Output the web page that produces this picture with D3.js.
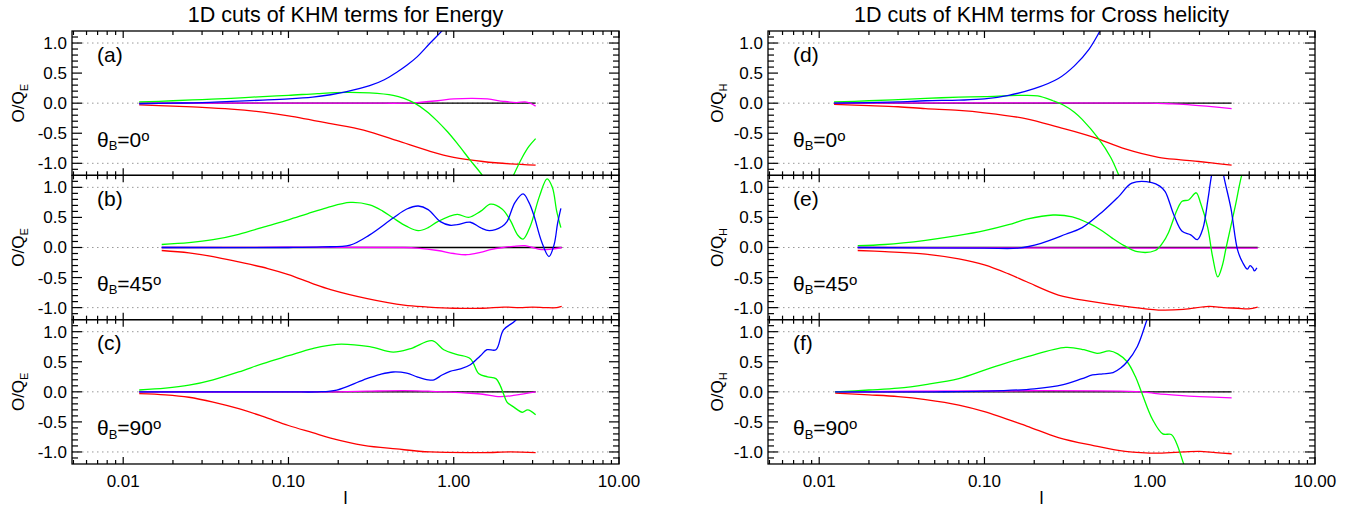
<!DOCTYPE html>
<html>
<head>
<meta charset="utf-8">
<script src="https://cdn.jsdelivr.net/npm/d3@7"></script>
<style>
  body { margin: 0; background: #fff; }
  text { font-family: "Liberation Sans", Arial, Helvetica, sans-serif; fill: #000; }
</style>
</head>
<body>
<svg id="chart" width="1363" height="508"></svg>
<script>
// Column titles, tick labels, panel names
const columnTitles = ['1D cuts of KHM terms for Energy', '1D cuts of KHM terms for Cross helicity'];
const yLabelSubs = ['E', 'H'];
const panelLetters = [['a', 'b', 'c'], ['d', 'e', 'f']];
const thetaAngles = ['0', '45', '90'];
const xTickValues = [0.01, 0.1, 1, 10];
const xTickLabels = ['0.01', '0.10', '1.00', '10.00'];
const yTickValues = [1, 0.5, 0, -0.5, -1];
const yTickLabels = ['1.0', '0.5', '0.0', '-0.5', '-1.0'];
const gridValues = [1, 0, -1];

// Panel (a): Energy, theta_B = 0
const aBlue = [[0.0125, -0.01], [0.02, 0.0], [0.03, 0.01], [0.045, 0.03], [0.07, 0.05], [0.1, 0.07], [0.14, 0.1], [0.18, 0.14], [0.225, 0.19], [0.31, 0.29], [0.38, 0.39], [0.45, 0.51], [0.52, 0.63], [0.6, 0.77], [0.72, 1.0], [0.86, 1.22], [1.0, 1.45], [1.2, 1.8]];
const aGreen = [[0.0125, 0.02], [0.02, 0.04], [0.03, 0.06], [0.045, 0.08], [0.07, 0.11], [0.1, 0.13], [0.15, 0.16], [0.225, 0.18], [0.31, 0.17], [0.43, 0.13], [0.5, 0.08], [0.58, 0.0], [0.68, -0.13], [0.79, -0.29], [0.92, -0.48], [1.05, -0.67], [1.26, -0.95], [1.49, -1.2], [1.7, -1.45], [1.9, -1.55], [2.1, -1.45], [2.3, -1.2], [2.6, -0.9], [2.85, -0.72], [3.13, -0.59]];
const aRed = [[0.0125, -0.03], [0.02, -0.05], [0.03, -0.07], [0.045, -0.1], [0.07, -0.15], [0.1, -0.21], [0.18, -0.34], [0.285, -0.45], [0.45, -0.62], [0.72, -0.8], [1.0, -0.9], [1.5, -0.97], [2.2, -1.01], [3.13, -1.03]];
const aMagenta = [[0.0125, 0], [0.3, 0], [0.5, 0.0], [0.6, 0.01], [0.8, 0.04], [1.0, 0.07], [1.3, 0.08], [1.6, 0.07], [2.0, 0.03], [2.4, 0.01], [2.7, 0.02], [2.9, 0.0], [3.13, -0.05]];
const aBlack = [[0.0125, 0], [3.13, 0]];

// Panel (b): Energy, theta_B = 45
const bBlue = [[0.0171, 0], [0.1, 0], [0.16, 0.01], [0.236, 0.04], [0.31, 0.21], [0.43, 0.49], [0.52, 0.64], [0.61, 0.69], [0.7, 0.63], [0.83, 0.43], [0.95, 0.37], [1.05, 0.38], [1.26, 0.42], [1.45, 0.33], [1.64, 0.28], [1.96, 0.35], [2.1, 0.43], [2.35, 0.75], [2.63, 0.89], [2.85, 0.75], [3.05, 0.54], [3.4, 0.1], [3.77, -0.15], [4.05, 0.05], [4.25, 0.4], [4.45, 0.65]];
const bGreen = [[0.0171, 0.05], [0.025, 0.08], [0.035, 0.13], [0.05, 0.22], [0.075, 0.36], [0.1, 0.46], [0.13, 0.56], [0.17, 0.66], [0.236, 0.75], [0.31, 0.71], [0.37, 0.61], [0.43, 0.49], [0.52, 0.35], [0.61, 0.28], [0.7, 0.33], [0.8, 0.43], [1.05, 0.55], [1.23, 0.5], [1.45, 0.6], [1.67, 0.72], [1.96, 0.64], [2.2, 0.45], [2.45, 0.2], [2.63, 0.14], [2.9, 0.35], [3.3, 0.85], [3.67, 1.14], [3.95, 1.0], [4.2, 0.6], [4.45, 0.33]];
const bRed = [[0.0171, -0.05], [0.025, -0.09], [0.035, -0.15], [0.05, -0.24], [0.075, -0.35], [0.1, -0.45], [0.14, -0.6], [0.18, -0.7], [0.3, -0.85], [0.5, -0.96], [0.7, -0.99], [1.0, -1.01], [1.5, -1.01], [2.0, -0.99], [2.5, -1.0], [3.0, -0.99], [3.6, -1.0], [4.2, -1.0], [4.5, -0.98]];
const bMagenta = [[0.0171, 0], [0.5, 0], [0.6, -0.01], [0.8, -0.05], [1.0, -0.1], [1.2, -0.12], [1.45, -0.08], [1.7, -0.03], [2.0, 0.0], [2.3, 0.02], [2.7, 0.03], [3.0, 0.0], [3.3, -0.03], [3.8, -0.03], [4.5, 0.0]];
const bBlack = [[0.0171, 0], [4.5, 0]];

// Panel (c): Energy, theta_B = 90
const cBlue = [[0.0125, 0], [0.1, 0], [0.15, 0.0], [0.196, 0.03], [0.285, 0.2], [0.36, 0.29], [0.43, 0.33], [0.52, 0.31], [0.6, 0.25], [0.7, 0.2], [0.76, 0.2], [0.85, 0.28], [0.95, 0.34], [1.1, 0.38], [1.26, 0.45], [1.45, 0.6], [1.59, 0.7], [1.8, 0.7], [2.0, 1.03], [2.37, 1.19], [2.6, 1.4]];
const cGreen = [[0.0125, 0.03], [0.018, 0.06], [0.025, 0.11], [0.035, 0.2], [0.05, 0.33], [0.07, 0.47], [0.1, 0.6], [0.14, 0.72], [0.196, 0.79], [0.31, 0.75], [0.43, 0.66], [0.55, 0.72], [0.74, 0.85], [0.87, 0.7], [1.05, 0.62], [1.26, 0.55], [1.42, 0.3], [1.6, 0.25], [1.8, 0.22], [1.9, 0.12], [2.0, -0.03], [2.1, -0.17], [2.3, -0.25], [2.6, -0.34], [2.8, -0.3], [3.13, -0.38]];
const cRed = [[0.0125, -0.03], [0.018, -0.05], [0.025, -0.09], [0.035, -0.17], [0.05, -0.28], [0.07, -0.41], [0.1, -0.56], [0.14, -0.68], [0.18, -0.77], [0.285, -0.89], [0.45, -0.95], [0.72, -1.0], [1.5, -1.01], [2.2, -1.0], [3.13, -1.01]];
const cMagenta = [[0.0125, 0], [0.2, 0.0], [0.3, 0.01], [0.5, 0.02], [0.7, 0.01], [0.9, 0.0], [1.2, -0.02], [1.5, -0.04], [1.9, -0.08], [2.3, -0.06], [2.7, -0.03], [3.13, 0.0]];
const cBlack = [[0.0125, 0], [3.13, 0]];

// Panel (d): Cross helicity, theta_B = 0
const dBlue = [[0.0123, 0.0], [0.02, 0.01], [0.03, 0.02], [0.044, 0.04], [0.07, 0.05], [0.1, 0.07], [0.14, 0.13], [0.2, 0.24], [0.28, 0.41], [0.35, 0.62], [0.43, 0.9], [0.5, 1.2], [0.6, 1.6]];
const dGreen = [[0.0123, 0.02], [0.02, 0.04], [0.03, 0.06], [0.044, 0.08], [0.07, 0.1], [0.1, 0.11], [0.17, 0.13], [0.21, 0.12], [0.26, 0.04], [0.3, -0.03], [0.35, -0.15], [0.39, -0.27], [0.49, -0.59], [0.58, -0.9], [0.65, -1.2], [0.72, -1.5]];
const dRed = [[0.0123, -0.02], [0.02, -0.04], [0.03, -0.06], [0.044, -0.09], [0.07, -0.12], [0.1, -0.16], [0.18, -0.26], [0.28, -0.4], [0.45, -0.56], [0.71, -0.76], [1.13, -0.9], [1.5, -0.94], [1.98, -0.97], [2.5, -1.0], [3.13, -1.03]];
const dMagenta = [[0.0123, 0], [1.0, 0], [1.3, -0.01], [1.6, -0.02], [2.2, -0.05], [3.13, -0.09]];
const dBlack = [[0.0123, 0], [3.13, 0]];

// Panel (e): Cross helicity, theta_B = 45
const eBlue = [[0.0171, 0], [0.1, -0.01], [0.16, -0.01], [0.22, 0.07], [0.31, 0.22], [0.39, 0.33], [0.52, 0.6], [0.65, 0.85], [0.78, 1.07], [1.03, 1.08], [1.15, 1.02], [1.24, 0.93], [1.4, 0.54], [1.57, 0.27], [1.77, 0.21], [1.94, 0.13], [2.1, 0.32], [2.25, 0.8], [2.37, 1.21], [2.55, 1.6], [2.7, 1.5], [2.8, 1.2], [3.1, 0.65], [3.4, -0.04], [3.65, -0.25], [3.9, -0.36], [4.05, -0.3], [4.2, -0.34], [4.3, -0.39], [4.45, -0.34]];
const eGreen = [[0.0171, 0.03], [0.025, 0.05], [0.044, 0.12], [0.07, 0.2], [0.1, 0.28], [0.14, 0.38], [0.18, 0.47], [0.26, 0.54], [0.34, 0.51], [0.43, 0.4], [0.5, 0.3], [0.59, 0.16], [0.7, 0.03], [0.84, -0.07], [1.08, -0.05], [1.2, 0.08], [1.3, 0.25], [1.46, 0.62], [1.57, 0.77], [1.72, 0.79], [1.91, 0.91], [2.03, 0.74], [2.24, 0.34], [2.4, -0.15], [2.58, -0.49], [2.75, -0.3], [2.9, 0.0], [3.3, 0.7], [3.6, 1.2], [4.0, 1.6], [4.45, 1.8]];
const eRed = [[0.0171, -0.05], [0.025, -0.07], [0.044, -0.11], [0.07, -0.19], [0.1, -0.29], [0.14, -0.44], [0.18, -0.57], [0.28, -0.79], [0.45, -0.9], [0.71, -0.98], [1.13, -1.04], [1.6, -1.03], [2.28, -0.98], [2.8, -1.0], [3.4, -1.01], [3.97, -1.02], [4.5, -0.99]];
const eMagenta = [[0.0171, 0], [1.0, -0.01], [4.5, -0.01]];
const eBlack = [[0.0171, 0], [4.5, 0]];

// Panel (f): Cross helicity, theta_B = 90
const fBlue = [[0.0125, 0], [0.05, 0.0], [0.1, 0.01], [0.2, 0.05], [0.3, 0.12], [0.39, 0.22], [0.45, 0.28], [0.52, 0.3], [0.6, 0.32], [0.67, 0.4], [0.73, 0.5], [0.84, 0.75], [0.96, 1.19], [1.05, 1.5]];
const fGreen = [[0.0125, 0.0], [0.02, 0.03], [0.03, 0.06], [0.044, 0.12], [0.07, 0.22], [0.1, 0.36], [0.125, 0.45], [0.18, 0.58], [0.31, 0.74], [0.4, 0.7], [0.48, 0.64], [0.57, 0.68], [0.64, 0.63], [0.73, 0.5], [0.82, 0.25], [0.89, 0.0], [1.04, -0.46], [1.2, -0.7], [1.35, -0.71], [1.45, -0.85], [1.6, -1.19], [1.75, -1.5]];
const fRed = [[0.0125, -0.02], [0.02, -0.05], [0.03, -0.08], [0.044, -0.13], [0.07, -0.22], [0.1, -0.33], [0.18, -0.57], [0.28, -0.76], [0.45, -0.89], [0.71, -0.99], [1.13, -1.02], [1.6, -1.0], [2.0, -0.99], [2.5, -1.01], [3.13, -1.03]];
const fMagenta = [[0.0125, 0], [0.9, 0], [1.1, -0.03], [1.5, -0.06], [2.0, -0.08], [3.13, -0.1]];
const fBlack = [[0.0125, 0], [3.13, 0]];

const panelSeries = [
  [
    { black: aBlack, magenta: aMagenta, red: aRed, green: aGreen, blue: aBlue },
    { black: bBlack, magenta: bMagenta, red: bRed, green: bGreen, blue: bBlue },
    { black: cBlack, magenta: cMagenta, red: cRed, green: cGreen, blue: cBlue }
  ],
  [
    { black: dBlack, magenta: dMagenta, red: dRed, green: dGreen, blue: dBlue },
    { black: eBlack, magenta: eMagenta, red: eRed, green: eGreen, blue: eBlue },
    { black: fBlack, magenta: fMagenta, red: fRed, green: fGreen, blue: fBlue }
  ]
];

const SERIES_ORDER = ['black', 'magenta', 'red', 'green', 'blue'];
const SERIES_COLORS = { black: '#000000', magenta: '#ff00ff', red: '#ff0000', green: '#00ff00', blue: '#0000ff' };

// Layout
const COLUMNS = [
  { x0: 72, x1: 619, ylabX: 23.5 },
  { x0: 768, x1: 1315, ylabX: 723 }
];
const TOP = 31;
const PANEL_H = 144.33;
const X_MAJOR = 7, X_MINOR = 4, Y_MAJOR = 10, Y_MINOR = 6;

const svg = d3.select('#chart');

COLUMNS.forEach((col, ci) => {
  const x = d3.scaleLog().domain([0.0049, 10]).range([col.x0, col.x1]);
  const cx = (col.x0 + col.x1) / 2;

  // Column title
  svg.append('text')
    .attr('x', cx)
    .attr('y', 22)
    .attr('text-anchor', 'middle')
    .style('font-size', '21.5px')
    .text(columnTitles[ci]);

  // Minor/major x tick positions
  const xTicks = [];
  [0.001, 0.01, 0.1, 1].forEach(dec => {
    for (let k = 1; k <= 9; k++) {
      const v = k * dec;
      if (v >= 0.005 && v <= 10.0001) xTicks.push({ v, major: k === 1 });
    }
  });
  xTicks.push({ v: 10, major: true });

  for (let pi = 0; pi < 3; pi++) {
    const top = TOP + pi * PANEL_H;
    const bottom = top + PANEL_H;
    const y = d3.scaleLinear().domain([-1.2, 1.2]).range([bottom, top]);
    const g = svg.append('g').attr('class', 'panel');
    const clipId = `clip-${ci}-${pi}`;

    g.append('clipPath')
      .attr('id', clipId)
      .append('rect')
      .attr('x', col.x0)
      .attr('y', top)
      .attr('width', col.x1 - col.x0)
      .attr('height', PANEL_H);

    // Dotted reference lines
    g.selectAll('.grid')
      .data(gridValues)
      .enter()
      .append('line')
      .attr('x1', col.x0)
      .attr('x2', col.x1)
      .attr('y1', d => y(d))
      .attr('y2', d => y(d))
      .attr('stroke', '#999')
      .attr('stroke-width', 1)
      .attr('stroke-dasharray', '1.5,3.5');

    // Curves
    const line = d3.line()
      .x(d => x(d[0]))
      .y(d => y(d[1]))
      .curve(d3.curveCatmullRom.alpha(0.5));

    const series = panelSeries[ci][pi];
    const curves = g.append('g').attr('clip-path', `url(#${clipId})`);
    SERIES_ORDER.forEach(name => {
      curves.append('path')
        .datum(series[name])
        .attr('d', line)
        .attr('fill', 'none')
        .attr('stroke', SERIES_COLORS[name])
        .attr('stroke-width', 1.3);
    });

    // Frame
    g.append('rect')
      .attr('x', col.x0)
      .attr('y', top)
      .attr('width', col.x1 - col.x0)
      .attr('height', PANEL_H)
      .attr('fill', 'none')
      .attr('stroke', '#000')
      .attr('stroke-width', 1.3);

    // X ticks (top and bottom, inward)
    xTicks.forEach(t => {
      const len = t.major ? X_MAJOR : X_MINOR;
      const px = x(t.v);
      g.append('line').attr('x1', px).attr('x2', px).attr('y1', bottom).attr('y2', bottom - len)
        .attr('stroke', '#000').attr('stroke-width', 1.2);
      g.append('line').attr('x1', px).attr('x2', px).attr('y1', top).attr('y2', top + len)
        .attr('stroke', '#000').attr('stroke-width', 1.2);
    });

    // Y ticks (left and right, inward)
    d3.range(-11, 12).forEach(i => {
      const v = i / 10;
      const len = i % 5 === 0 ? Y_MAJOR : Y_MINOR;
      const py = y(v);
      g.append('line').attr('x1', col.x0).attr('x2', col.x0 + len).attr('y1', py).attr('y2', py)
        .attr('stroke', '#000').attr('stroke-width', 1.2);
      g.append('line').attr('x1', col.x1 - len).attr('x2', col.x1).attr('y1', py).attr('y2', py)
        .attr('stroke', '#000').attr('stroke-width', 1.2);
    });

    // Y tick labels
    g.selectAll('.ylab')
      .data(yTickValues)
      .enter()
      .append('text')
      .attr('x', col.x0 - 5)
      .attr('y', d => y(d) + 6)
      .attr('text-anchor', 'end')
      .style('font-size', '17px')
      .text((d, i) => yTickLabels[i]);

    // Y axis title O/Q_E or O/Q_H
    const yt = g.append('text')
      .attr('transform', `translate(${col.ylabX},${(top + bottom) / 2}) rotate(-90)`)
      .attr('text-anchor', 'middle')
      .style('font-size', '17px');
    yt.append('tspan').text('O/Q');
    yt.append('tspan').attr('dy', 4).style('font-size', '11px').text(yLabelSubs[ci]);

    // Panel letter
    g.append('text')
      .attr('x', col.x0 + 25)
      .attr('y', top + 30.5)
      .style('font-size', '21px')
      .text(`(${panelLetters[ci][pi]})`);

    // theta_B label
    const th = g.append('text')
      .attr('x', col.x0 + 25)
      .attr('y', top + 115.5)
      .style('font-size', '21px');
    th.append('tspan').text('θ');
    th.append('tspan').attr('dy', 3.5).style('font-size', '13px').text('B');
    th.append('tspan').attr('dy', -3.5).text(`=${thetaAngles[pi]}`);
    th.append('tspan').attr('dy', -6).style('font-size', '15px').text('o');

    // X tick labels on the bottom panel
    if (pi === 2) {
      g.selectAll('.xlab')
        .data(xTickValues)
        .enter()
        .append('text')
        .attr('x', d => x(d))
        .attr('y', 487)
        .attr('text-anchor', 'middle')
        .style('font-size', '17px')
        .text((d, i) => xTickLabels[i]);
    }
  }

  // X axis title
  svg.append('text')
    .attr('x', cx)
    .attr('y', 504)
    .attr('text-anchor', 'middle')
    .style('font-size', '18px')
    .text('l');
});
</script>
</body>
</html>
